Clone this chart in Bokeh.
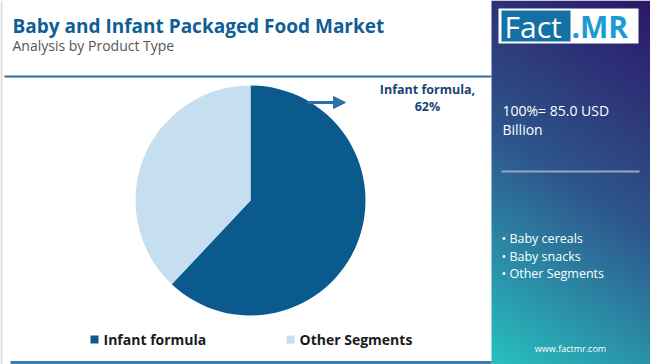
import numpy as np
from bokeh.plotting import figure
from bokeh.models import Range1d, Arrow, NormalHead
from bokeh.core.properties import value
from bokeh.embed import file_html
from bokeh.resources import INLINE

title = "Baby and Infant Packaged Food Market"
subtitle = "Analysis by Product Type"
categories = ["Infant formula", "Other Segments"]
shares = [62, 38]
colors = ["#0b5a8e", "#c5dff0"]
total_label = ["100%= 85.0 USD", "Billion"]
bullets = ["• Baby cereals", "• Baby snacks", "• Other Segments"]
callout = ["Infant formula,", "62%"]

H = 364
def Y(v):
    return H - v

p = figure(width=650, height=364, x_range=Range1d(0, 650), y_range=Range1d(0, 364),
           output_backend="svg", toolbar_location=None, min_border=0)
p.axis.visible = False
p.grid.visible = False
p.outline_line_color = None
p.background_fill_color = "white"
p.border_fill_color = "white"

FONT = value("Open Sans")

# left border
p.quad(left=0, right=2, top=364, bottom=0, fill_color="#dcdcdc", line_color=None)

# right panel gradient
nx, ny = 80, 182
xs = np.linspace(0, 1, nx)
ys = np.linspace(0, 1, ny)  # 0 = bottom
XX, YY = np.meshgrid(xs, ys)
t = (1 - YY) * 0.78 + (1 - XX) * 0.22
t = np.clip(t, 0, 1)
c0 = np.array([44, 24, 104.0]); c1 = np.array([46, 86, 140.0]); c2 = np.array([40, 192, 192.0])
def lerp(a, b, s):
    return a[None, None, :] + (b - a)[None, None, :] * s[..., None]
col = np.where((t < 0.5)[..., None], lerp(c0, c1, np.clip(t / 0.5, 0, 1)), lerp(c1, c2, np.clip((t - 0.5) / 0.5, 0, 1)))
img = np.zeros((ny, nx), dtype=np.uint32)
view = img.view(dtype=np.uint8).reshape((ny, nx, 4))
view[..., 0] = col[..., 0].astype(np.uint8)
view[..., 1] = col[..., 1].astype(np.uint8)
view[..., 2] = col[..., 2].astype(np.uint8)
view[..., 3] = 255
p.image_rgba(image=[img], x=491, y=0, dw=159, dh=364)

# logo
p.quad(left=498, right=638, top=Y(8), bottom=Y(43), fill_color="white", line_color=None)
p.quad(left=501, right=570, top=Y(10), bottom=Y(41), fill_color="#1570a6", line_color=None)
p.text(x=[504], y=[Y(26)], text=["Fact"], text_color="white", text_font=FONT,
       text_font_size="30px", text_baseline="middle", text_align="left")
p.text(x=[571], y=[Y(26)], text=[".MR"], text_color="#1a9bd3", text_font=FONT,
       text_font_size="30px", text_font_style="bold", text_baseline="middle", text_align="left")

# panel texts
p.text(x=[502, 502], y=[Y(110), Y(129)], text=total_label, text_color="white", text_font=FONT,
       text_font_size="14px", text_baseline="middle", text_align="left")
p.segment(x0=[501], y0=[Y(171)], x1=[639], y1=[Y(171)], line_color="#9aa3c6", line_width=2)
p.text(x=[501] * 3, y=[Y(238), Y(256), Y(273)], text=bullets, text_color="white", text_font=FONT,
       text_font_size="12.5px", text_baseline="middle", text_align="left")
p.text(x=[570], y=[Y(348)], text=["www.factmr.com"], text_color="white", text_font=FONT,
       text_font_size="9px", text_baseline="middle", text_align="center")

# title
p.text(x=[12], y=[Y(25)], text=[title], text_color="#0f5e95", text_font=FONT,
       text_font_size="19px", text_font_style="bold", text_baseline="middle", text_align="left")
p.text(x=[12], y=[Y(45)], text=[subtitle], text_color="#555555", text_font=FONT,
       text_font_size="14px", text_baseline="middle", text_align="left")
p.segment(x0=[4], y0=[Y(76)], x1=[491], y1=[Y(76)], line_color="#2a6e9e", line_width=2)

# pie
fr = np.array(shares, dtype=float) / sum(shares)
ends = np.pi / 2 - np.cumsum(np.concatenate([[0], fr]))[:-1] * 2 * np.pi
starts = ends - fr * 2 * np.pi
p.wedge(x=250, y=Y(200), radius=115, start_angle=starts, end_angle=ends,
        fill_color=colors, line_color=None)

# callout
p.add_layout(Arrow(end=NormalHead(size=12, fill_color="#2a72a8", line_color="#2a72a8"),
                   x_start=307, y_start=Y(102), x_end=345, y_end=Y(102),
                   line_color="#2a72a8", line_width=3))
p.text(x=[427, 427], y=[Y(89), Y(106)], text=callout, text_color="#1a4474", text_font=FONT,
       text_font_size="12.5px", text_font_style="bold", text_baseline="middle", text_align="center")

# legend
p.quad(left=[90, 286], right=[98, 294], top=[Y(335)] * 2, bottom=[Y(343)] * 2,
       fill_color=colors, line_color=None)
p.text(x=[103, 299], y=[Y(339)] * 2, text=categories, text_color="#1a1a1a", text_font=FONT,
       text_font_size="14px", text_font_style="bold", text_baseline="middle", text_align="left")

# bottom line
p.segment(x0=[10], y0=[Y(362)], x1=[491], y1=[Y(362)], line_color="#3a7eab", line_width=3)

open("out.html", "w").write(file_html(p, INLINE))
